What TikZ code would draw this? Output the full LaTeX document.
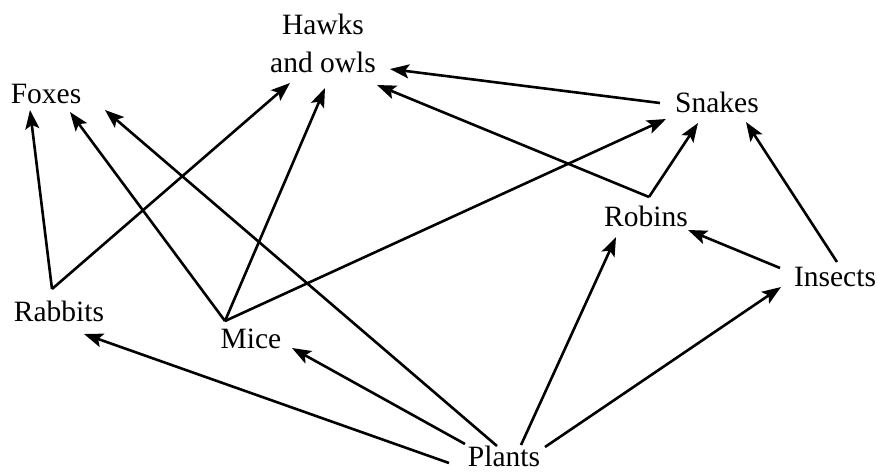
\documentclass[tikz,border=0pt]{standalone}
\usepackage{fontspec}
\setmainfont{Liberation Serif}
\usetikzlibrary{arrows.meta}

\begin{document}
\begin{tikzpicture}[x=1pt,y=-1pt]
\tikzstyle{every node}+=[inner sep=0pt, font=\fontsize{29.5}{38}\selectfont]
\tikzstyle{eats}=[black, line width=2.6pt, -{Stealth[length=19pt,width=14pt,inset=4pt]}]
\useasboundingbox (0,0) rectangle (877,472);
% animals, placed at their baselines
\node (hawks) at (323,72) [anchor=base, align=center] {Hawks\\and owls};
\node (foxes) at (46,103) [anchor=base] {Foxes};
\node (snakes) at (717,112) [anchor=base] {Snakes};
\node (robins) at (646,226) [anchor=base] {Robins};
\node (insects) at (835,286) [anchor=base] {Insects};
\node (rabbits) at (59,321) [anchor=base] {Rabbits};
\node (mice) at (251,348) [anchor=base] {Mice};
\node (plants) at (504,466) [anchor=base] {Plants};
% who is eaten by whom
\draw [eats] ([shift={(-7,-32)}]rabbits.base) -- ([shift={(-16,7)}]foxes.base);
\draw [eats] ([shift={(-7,-32)}]rabbits.base) -- ([shift={(-33,11)}]hawks.base);
\draw [eats] ([shift={(-26,-27)}]mice.base) -- ([shift={(24,9)}]foxes.base);
\draw [eats] ([shift={(-26,-27)}]mice.base) -- ([shift={(2,16)}]hawks.base);
\draw [eats] ([shift={(-26,-27)}]mice.base) -- ([shift={(-51,7)}]snakes.base);
\draw [eats] ([shift={(-7,-20)}]plants.base) -- ([shift={(59,7)}]foxes.base);
\draw [eats] ([shift={(-55,-3)}]plants.base) -- ([shift={(25,13)}]rabbits.base);
\draw [eats] ([shift={(-39,-22)}]plants.base) -- ([shift={(41,0)}]mice.base);
\draw [eats] ([shift={(17,-21)}]plants.base) -- ([shift={(-30,11)}]robins.base);
\draw [eats] ([shift={(41,-19)}]plants.base) -- ([shift={(-54,1)}]insects.base);
\draw [eats] ([shift={(-55,-18)}]insects.base) -- ([shift={(42,4)}]robins.base);
\draw [eats] ([shift={(2,-24)}]insects.base) -- ([shift={(29,10)}]snakes.base);
\draw [eats] ([shift={(3,-29)}]robins.base) -- ([shift={(-19,11)}]snakes.base);
\draw [eats] ([shift={(3,-29)}]robins.base) -- ([shift={(54,13)}]hawks.base);
\draw [eats] ([shift={(-57,-9)}]snakes.base) -- ([shift={(67,-3)}]hawks.base);
\end{tikzpicture}
\end{document}
